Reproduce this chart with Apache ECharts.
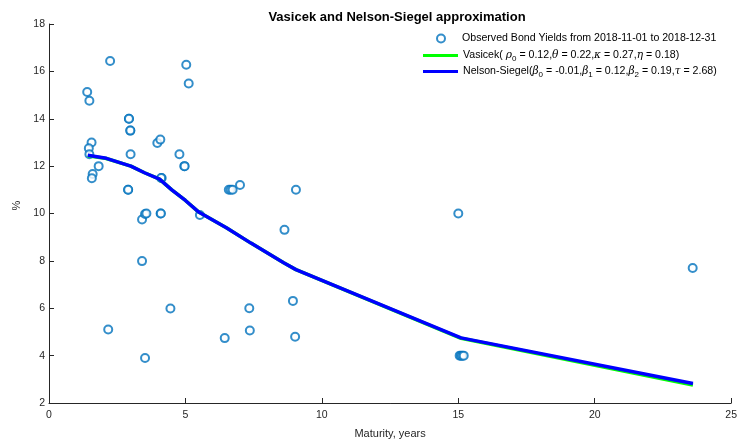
<!DOCTYPE html>
<html lang="en">
<head>
  <meta charset="UTF-8">
  <title>Vasicek and Nelson-Siegel approximation</title>
  <script src="https://cdn.jsdelivr.net/npm/echarts@6/dist/echarts.min.js"></script>
</head>
<body style="margin:0">
  <div id="main" style="width:740px;height:444px"></div>
  <script>
    // observed bonds: maturity (years) and yield (%)
    var bondMaturity = [1.40, 1.48, 2.24, 5.03, 5.12, 2.93, 2.93, 2.98, 2.98, 1.56, 1.46, 1.48, 2.99, 1.82, 1.60, 1.57,
      2.90, 2.90, 3.97, 4.08, 4.78, 4.96, 4.97, 4.13, 4.11, 6.59, 6.66, 6.73, 7.00, 9.05, 5.53, 3.41, 3.52, 3.57,
      4.09, 4.10, 8.63, 3.41, 4.45, 7.34, 8.94, 2.17, 6.44, 7.36, 9.02, 3.52, 15.00, 23.59, 15.05, 15.10, 15.15, 15.20]
    var bondYield = [15.13, 14.76, 16.44, 16.28, 15.49, 14.0, 14.0, 13.5, 13.5, 13.0, 12.75, 12.5, 12.5, 12.0, 11.67, 11.49,
      11.0, 11.0, 12.98, 13.12, 12.5, 12.0, 12.0, 11.5, 11.5, 11.0, 11.0, 11.0, 11.2, 11.0, 9.94, 9.75, 9.98, 10.0,
      10.0, 10.0, 9.31, 7.99, 5.99, 6.0, 6.31, 5.10, 4.74, 5.06, 4.80, 3.90, 10.0, 7.70, 4.0, 4.0, 4.0, 4.0]

    // fitted curves, evaluated at the sorted maturities
    var curveMaturity = [1.42, 2.1, 3.0, 3.5, 4.05, 4.5, 5.0, 5.5, 6.5, 7.4, 8.6, 9.05, 15.1, 23.6]
    var nelsonSiegel = [12.46, 12.33, 12.0, 11.72, 11.45, 11.0, 10.55, 10.05, 9.4, 8.75, 7.92, 7.63, 4.75, 2.82]
    var vasicek = [12.44, 12.32, 12.0, 11.72, 11.45, 11.0, 10.55, 10.05, 9.4, 8.75, 7.92, 7.63, 4.73, 2.76]

    var xTicks = [0, 25, 5]
    var yTicks = [2, 18, 2]

    var FONT = '"Liberation Sans", Arial, sans-serif'
    var names = ['Observed Bond Yields from 2018-11-01 to 2018-12-31',
      'Vasicek( rho0 = 0.12,theta = 0.22,kappa = 0.27,eta = 0.18)',
      'Nelson-Siegel(b0 = -0.01,b1 = 0.12,b2 = 0.19,tau = 2.68)']

    function pairs(xs, ys) {
      return xs.map(function (x, i) { return [x, ys[i]] })
    }

    // legend labels with greek letters and subscripts
    var legendText = {}
    legendText[names[0]] = '{n|' + names[0] + '}'
    legendText[names[1]] = '{n|Vasicek( }{g|ρ}{s|0}{n| = 0.12,}{g|θ}{n| = 0.22,}{g|κ}{n| = 0.27,}{g|η}{n| = 0.18)}'
    legendText[names[2]] = '{n|Nelson-Siegel(}{g|β}{s|0}{n| = -0.01,}{g|β}{s|1}{n| = 0.12,}{g|β}{s|2}{n| = 0.19,}{g|τ}{n| = 2.68)}'

    var rich = {
      n: { fontSize: 10.6, fontFamily: FONT, color: '#000', lineHeight: 16 },
      g: { fontSize: 10.6, fontFamily: '"DejaVu Serif", serif', fontStyle: 'italic', color: '#000', lineHeight: 16 },
      s: { fontSize: 8, fontFamily: FONT, color: '#000', lineHeight: 16, padding: [7, 0, 0, 0] }
    }

    // one legend block per entry so each can sit where the original puts it
    function legendFor(i, left, top, w, h, icon, pad) {
      return {
        data: [{ name: names[i], icon: icon }],
        left: left,
        top: top,
        itemWidth: w,
        itemHeight: h,
        itemGap: 0,
        padding: 0,
        formatter: function (n) { return legendText[n] },
        textStyle: { rich: rich, padding: [0, 0, 0, pad] },
        selectedMode: false
      }
    }

    var chart = echarts.init(document.getElementById('main'))
    chart.setOption({
      animation: false,
      backgroundColor: '#fff',
      title: {
        text: 'Vasicek and Nelson-Siegel approximation',
        left: 392,
        textAlign: 'center',
        top: 6,
        textStyle: { fontSize: 13, fontWeight: 'bold', fontFamily: FONT, color: '#000' }
      },
      legend: [
        legendFor(0, 436, 33, 8, 8, 'emptyCircle', 12),
        legendFor(1, 423, 48, 35, 3, 'rect', 0),
        legendFor(2, 423, 64, 35, 3, 'rect', 0)
      ],
      grid: { left: 49, right: 5, top: 24, bottom: 35 },
      xAxis: {
        type: 'value',
        min: xTicks[0], max: xTicks[1], interval: xTicks[2],
        name: 'Maturity, years',
        nameLocation: 'middle',
        nameGap: 25,
        nameTextStyle: { fontSize: 11, fontFamily: FONT, color: '#262626' },
        axisLine: { lineStyle: { color: '#262626', width: 1 } },
        axisTick: { inside: true, length: 5, lineStyle: { color: '#262626' } },
        axisLabel: { fontSize: 10.5, fontFamily: FONT, color: '#262626', margin: 7 },
        splitLine: { show: false }
      },
      yAxis: {
        type: 'value',
        min: yTicks[0], max: yTicks[1], interval: yTicks[2],
        name: '%',
        nameLocation: 'middle',
        nameGap: 27,
        nameTextStyle: { fontSize: 11, fontFamily: FONT, color: '#262626', padding: [0, 0, 0, 16] },
        axisLine: { show: true, lineStyle: { color: '#262626', width: 1 } },
        axisTick: { show: true, inside: true, length: 5, lineStyle: { color: '#262626' } },
        axisLabel: { fontSize: 10.5, fontFamily: FONT, color: '#262626', margin: 4 },
        splitLine: { show: false }
      },
      series: [
        {
          name: names[0],
          type: 'scatter',
          symbol: 'emptyCircle',
          symbolSize: 8,
          itemStyle: { color: '#0072BD', borderColor: '#0072BD', borderWidth: 1 },
          data: pairs(bondMaturity, bondYield)
        },
        {
          name: names[1],
          type: 'line',
          showSymbol: false,
          symbol: 'none',
          color: '#00FF00',
          lineStyle: { color: '#00FF00', width: 3.5 },
          data: pairs(curveMaturity, vasicek)
        },
        {
          name: names[2],
          type: 'line',
          showSymbol: false,
          symbol: 'none',
          color: '#0000FF',
          lineStyle: { color: '#0000FF', width: 3.5 },
          data: pairs(curveMaturity, nelsonSiegel)
        }
      ]
    })
  </script>
</body>
</html>
